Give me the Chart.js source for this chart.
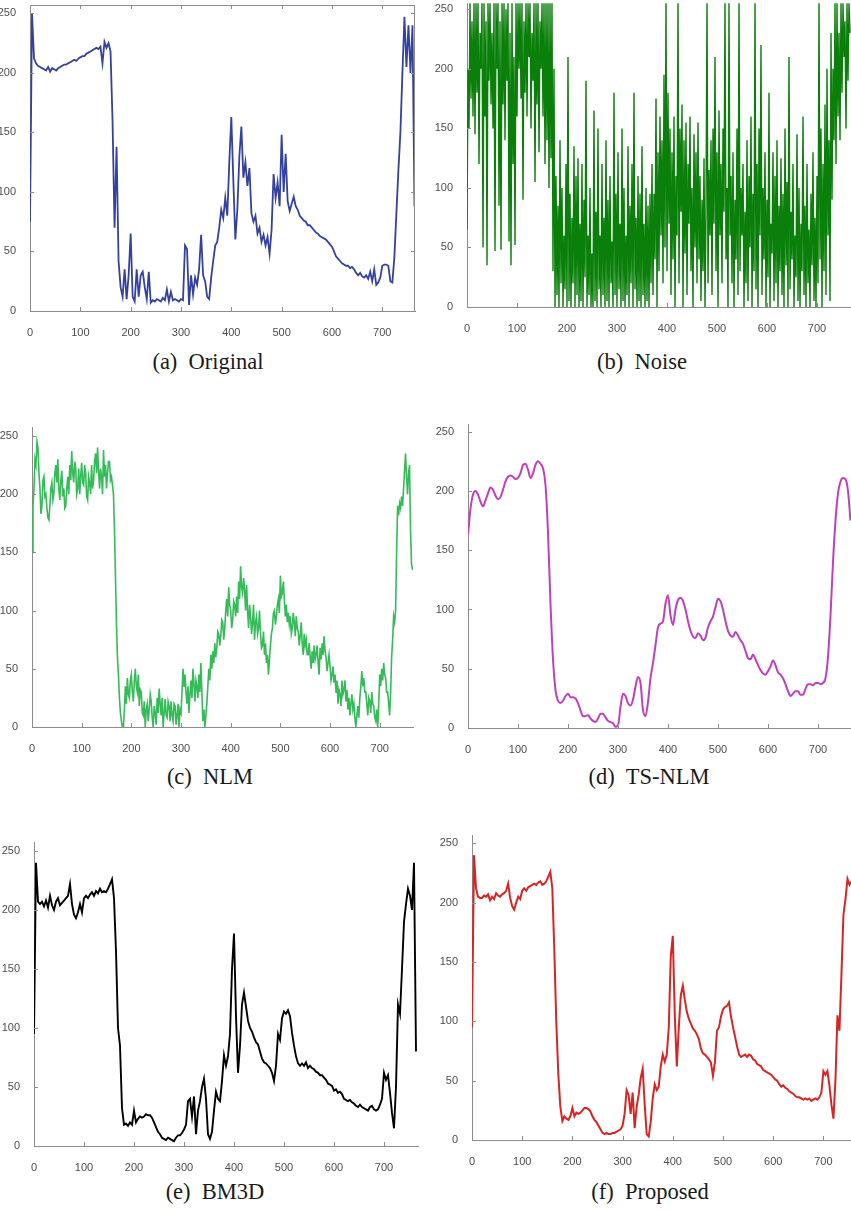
<!DOCTYPE html>
<html>
<head>
<meta charset="utf-8">
<script src="https://cdn.jsdelivr.net/npm/chart.js@4.4.1/dist/chart.umd.min.js"></script>
<style>
  html, body { margin: 0; padding: 0; background: #fff; overflow: hidden; }
  body { width: 851px; height: 1210px; position: relative; }
  canvas { position: absolute; }
  .cap {
    position: absolute; width: 300px; margin-left: -150px; text-align: center;
    font-family: "Liberation Serif", "DejaVu Serif", serif; font-size: 22.5px;
    color: #1a1a1a; line-height: 26px; margin-top: -13px; white-space: pre;
  }
</style>
</head>
<body>
<canvas id="chartA"></canvas>
<canvas id="chartB"></canvas>
<canvas id="chartC"></canvas>
<canvas id="chartD"></canvas>
<canvas id="chartE"></canvas>
<canvas id="chartF"></canvas>
<div class="cap" style="left:208px; top:362px">(a)  Original</div>
<div class="cap" style="left:642px; top:362px">(b)  Noise</div>
<div class="cap" style="left:210px; top:777px">(c)  NLM</div>
<div class="cap" style="left:649px; top:777px">(d)  TS-NLM</div>
<div class="cap" style="left:215px; top:1192px">(e)  BM3D</div>
<div class="cap" style="left:650px; top:1192px">(f)  Proposed</div>
<script>
// tick labels shared by all six panels
const xTicks = [0, 100, 200, 300, 400, 500, 600, 700];
const yTicks = [0, 50, 100, 150, 200, 250];

// (a) original row profile, one value every 4 samples
const originalStep = 4;
const original = [
  75, 250, 212, 208, 206, 205, 204, 203, 202, 205,
  201, 204, 203, 202, 204, 205, 206, 207, 207, 208,
  209, 210, 211, 210, 212, 213, 214, 214, 216, 217,
  218, 219, 220, 221, 220, 222, 208, 226, 221, 225,
  218, 160, 70, 138, 42, 20, 12, 35, 10, 30,
  65, 12, 8, 35, 12, 30, 33, 20, 10, 33,
  7, 9, 8, 10, 9, 8, 11, 9, 18, 8,
  16, 9, 10, 9, 8, 10, 9, 55, 52, 5,
  30, 14, 28, 22, 35, 64, 30, 25, 12, 10,
  28, 42, 55, 58, 70, 85, 78, 95, 80, 125,
  163, 110, 60, 85, 130, 155, 112, 125, 105, 120,
  82, 75, 80, 65, 70, 58, 64, 55, 62, 48,
  68, 115, 95, 108, 88, 148, 100, 132, 92, 84,
  90, 96, 88, 85, 80, 78, 76, 75, 72, 72,
  70, 68, 66, 65, 63, 62, 61, 60, 58, 56,
  54, 50, 46, 44, 42, 40, 39, 38, 38, 36,
  37, 35, 32, 30, 32, 29, 28, 30, 27, 33,
  25, 35, 22, 24, 28, 38, 39, 39, 38, 25,
  24, 45, 82, 118, 150, 200, 247, 205, 240, 200,
  240, 88
];

// (b) noisy profile, one value every 2 samples
const noiseStep = 2;
const noise = [
  65, 200, 150, 255, 175, 240, 160, 255, 145, 255,
  180, 255, 120, 230, 200, 255, 50, 255, 160, 240,
  35, 255, 190, 255, 170, 230, 150, 255, 47, 255,
  200, 255, 85, 240, 48, 255, 170, 255, 140, 250,
  190, 255, 55, 230, 35, 255, 120, 210, 52, 255,
  160, 255, 200, 255, 175, 255, 90, 240, 180, 255,
  160, 255, 210, 255, 150, 230, 190, 255, 105, 255,
  170, 255, 130, 240, 200, 255, 160, 255, 120, 255,
  140, 255, 100, 255, 125, 255, 30, 200, 0, 110,
  10, 85, 0, 140, 20, 100, 0, 60, 15, 120,
  0, 210, 5, 95, 0, 75, 20, 135, 0, 110,
  10, 125, 0, 70, 5, 120, 0, 90, 25, 190,
  0, 60, 10, 100, 0, 45, 0, 165, 5, 80,
  0, 150, 15, 60, 0, 120, 10, 75, 0, 140,
  5, 90, 0, 110, 20, 55, 0, 180, 10, 95,
  0, 130, 15, 70, 0, 150, 5, 100, 0, 60,
  10, 135, 0, 85, 20, 120, 0, 180, 15, 75,
  0, 110, 5, 95, 0, 135, 10, 70, 0, 100,
  5, 85, 0, 95, 20,
  120, 10, 95, 40, 175, 0, 130, 30, 160, 60,
  140, 20, 195, 50, 255, 30, 180, 70, 150, 10,
  130, 40, 160, 0, 110, 60, 255, 20, 150, 80,
  170, 0, 140, 45, 155, 10, 120, 70, 160, 30,
  100, 0, 145, 50, 130, 20, 155, 40, 110, 5,
  90, 30, 125, 0, 80, 255, 20, 115, 60, 140,
  10, 150, 70, 210, 30, 130, 0, 165, 60, 120,
  20, 150, 80, 255, 40,
  100, 0, 255, 60, 110, 20, 130, 0, 90, 40,
  150, 10, 255, 30, 100, 60, 120, 0, 80, 20,
  140, 5, 110, 50, 160, 0, 95, 30, 255, 15,
  120, 0, 150, 60, 220, 10, 100, 40, 130, 0,
  90, 25, 180, 0, 70, 45, 130, 5, 110, 20,
  140, 0, 85, 30, 125, 10, 95, 0, 150, 35,
  105, 0, 210, 15, 80, 40, 120, 0, 60, 25,
  145, 5, 100, 0, 70, 30, 160, 10, 85, 0,
  120, 20, 65, 0, 95, 35, 130, 5, 75, 0,
  110, 20, 255, 40, 150, 0, 120, 30, 170, 10,
  200, 60, 140, 5, 230, 90, 200, 140, 255, 120,
  255, 160, 230, 140, 255, 180, 255, 210, 240, 150,
  255, 190, 255, 230
];

// (c) NLM result, one value every 2 samples
const nlmStep = 2;
const nlm = [
  150, 190, 205, 230, 225, 245, 240, 218, 205, 183,
  190, 212, 215, 198, 200, 188, 180, 178, 190, 205,
  210, 195, 200, 218, 225, 210, 230, 205, 195, 212,
  220, 198, 205, 188, 190, 205, 215, 200, 225, 212,
  237, 218, 210, 228, 222, 200, 205, 222, 200, 215,
  227, 210, 208, 225, 218, 198, 195, 215, 210, 200,
  225, 205, 212, 228, 235, 218, 240, 220, 205, 222,
  215, 200, 238, 215, 225, 205, 218, 228, 228, 212,
  215, 208, 200, 170, 130, 90, 60, 45, 25, 12,
  5, 0, 0, 15, 35, 20, 42, 28, 25, 40,
  45, 30, 22, 40, 50, 35, 30, 45, 18, 32,
  30, 12, 10, 22, 0, 15, 20, 5, 15, 28,
  22, 8, 0, 18, 12, 2, 25, 12, 33, 20,
  10, 25, 0, 12, 24, 10, 8, 22, 18, 5,
  22, 10, 5, 20, 18, 2, 10, 20, 0, 15,
  12, 30, 50, 35, 45, 30, 20, 35, 12, 28,
  40, 25, 50, 38, 22, 40, 35, 25, 45, 30,
  55, 30, 5, 15, 0, 10, 20, 35, 50, 40,
  62, 50, 65, 55, 72, 60, 68, 82, 80, 70,
  78, 92, 90, 75, 85, 100, 110, 95, 120, 105,
  100, 85, 92, 108, 105, 95, 112, 98, 125, 110,
  138, 120, 115, 128, 118, 100, 122, 100, 85, 105,
  95, 80, 90, 105, 75, 90, 95, 80, 85, 100,
  80, 68, 70, 82, 62, 72, 55, 62, 45, 58,
  70, 80, 85, 98, 100, 88, 95, 105, 110, 98,
  130, 112, 115, 125, 110, 95, 105, 90, 98, 88,
  95, 80, 85, 98, 90, 78, 95, 85, 82, 70,
  78, 90, 72, 62, 80, 70, 75, 62, 62, 72,
  60, 50, 65, 55, 70, 58, 62, 70, 55, 45,
  68, 58, 72, 62, 78, 65, 60, 48, 55, 62,
  52, 40, 45, 52, 38, 45, 30, 40, 20, 32,
  28, 18, 40, 28, 32, 40, 22, 32, 15, 25,
  10, 20, 28, 15, 20, 8, 0, 10, 18, 8,
  25, 35, 48, 35, 42, 30, 30, 20, 10, 25,
  22, 12, 30, 20, 18, 8, 5, 15, 0, 20,
  45, 35, 50, 40, 55, 45, 42, 30, 30, 20,
  10, 30, 60, 75, 95, 90, 100, 150, 190, 182,
  192, 188, 198, 190, 205, 220, 235, 215, 200, 218,
  225, 170, 140, 135
];

// (d) TS-NLM result (smooth), one value every 5 samples
const tsnlmStep = 5;
const tsnlm = [
  163, 185, 197, 200, 197, 191, 187, 192, 198, 203,
  201, 196, 193, 195, 201, 208, 212, 213, 212, 210,
  211, 215, 222, 223, 218, 211, 215, 222, 225, 223,
  219, 205, 165, 105, 58, 32, 23, 21, 23, 27,
  29, 26, 26, 25, 21, 15, 10, 10, 11, 8,
  6, 5, 8, 12, 12, 9, 6, 5, 4, 1,
  2, 18, 29, 27, 21, 19, 24, 35, 43, 38,
  15, 10, 22, 42, 55, 70, 85, 88, 90, 105,
  112, 95, 87, 100, 108, 110, 107, 100, 90, 82,
  77, 76, 80, 78, 74, 76, 85, 90, 94, 102,
  109, 107, 100, 90, 82, 78, 77, 81, 78, 74,
  71, 65, 59, 58, 62, 58, 53, 49, 46, 45,
  48, 52, 57, 53, 47, 45, 42, 37, 31, 27,
  29, 31, 31, 28, 28, 33, 37, 37, 36, 38,
  38, 37, 38, 42, 60, 95, 140, 175, 198, 208,
  211, 210, 200, 175
];

// (e) BM3D result
const bm3dStep = 4;
const bm3d = [
  95, 240, 207, 205, 207, 203, 208, 202, 212, 204,
  200, 207, 210, 204, 206, 208, 210, 212, 222, 205,
  196, 193, 198, 205, 198, 210, 212, 210, 213, 215,
  212, 216, 214, 218, 215, 216, 215, 218, 222, 226,
  210, 165, 100, 85, 32, 18, 19, 17, 20, 18,
  30, 20, 23, 25, 24, 25, 27, 26, 26, 24,
  20, 16, 12, 10, 7, 6, 5, 7, 6, 5,
  4, 7, 9, 9, 11, 14, 18, 38, 40, 25,
  42, 10, 30, 38, 50, 57, 40, 10, 6, 12,
  30, 46, 40, 38, 55, 77, 68, 76, 95, 150,
  180, 110, 62, 85, 120, 130, 118, 106, 100, 97,
  92, 88, 86, 80, 74, 71, 70, 68, 66, 62,
  55, 68, 95, 90, 108, 114, 112, 115, 110, 96,
  85, 76, 70, 68, 70, 68, 71, 66, 68, 66,
  65, 63, 62, 60, 60, 58, 56, 53, 52, 51,
  47, 48, 45, 46, 44, 40, 39, 38, 39, 37,
  36, 34, 33, 35, 33, 32, 31, 30, 33, 34,
  31, 30, 31, 35, 40, 62, 56, 60, 45, 28,
  15, 50, 120, 112, 150, 190, 205, 218, 212, 200,
  240, 80
];

// (f) proposed method
const proposedStep = 4;
const proposed = [
  95, 240, 212, 205, 204, 204, 206, 205, 207, 202,
  205, 203, 208, 206, 205, 207, 208, 210, 216, 204,
  197, 194, 200, 205, 203, 210, 212, 210, 213, 214,
  215, 216, 215, 217, 218, 215, 216, 218, 222, 226,
  212, 160, 98, 55, 28, 16, 20, 18, 17, 20,
  27, 20, 23, 22, 23, 25, 27, 27, 26, 24,
  20, 17, 15, 12, 9, 6, 5, 6, 5, 5,
  6, 6, 7, 8, 9, 12, 22, 42, 38, 22,
  40, 10, 28, 38, 52, 60, 30, 5, 3, 15,
  35, 47, 42, 45, 62, 72, 66, 72, 95, 155,
  172, 105, 62, 95, 122, 130, 118, 108, 102, 98,
  94, 92, 89, 85, 77, 73, 72, 70, 68, 65,
  54, 66, 92, 95, 104, 110, 112, 113, 116, 104,
  95, 87, 79, 72, 70, 71, 72, 70, 72, 71,
  68, 67, 64, 63, 62, 59, 58, 57, 56, 55,
  53, 51, 50, 47, 45, 46, 44, 43, 41, 40,
  39, 37, 36, 36, 35, 34, 35, 34, 35, 33,
  34, 35, 34, 36, 40, 58, 55, 58, 46, 30,
  18, 50, 105, 92, 140, 190, 203, 220, 215, 218
];

const axisColor = "#8c8c8c";
const labelColor = "#4d4d4d";
const yAxisW = 40, xAxisH = 30, padTop = 10, padRight = 10;

// plot-area rectangles on the page (left, top, right, bottom)
const panels = [
  { id: "chartA", ys: original, step: originalStep, color: "#3441a0", width: 1.8, box: true,  L: 30,  T: 5,   R: 415, B: 311,  xMax: 765, yMax: 257 },
  { id: "chartB", ys: noise,    step: noiseStep,    color: "#0a7f0a", width: 1.4, box: false, L: 467, T: 3,   R: 851, B: 307,  xMax: 768, yMax: 255.3 },
  { id: "chartC", ys: nlm,      step: nlmStep,      color: "#35bb58", width: 1.6, box: false, L: 32,  T: 427, R: 413, B: 727,  xMax: 767, yMax: 257.7 },
  { id: "chartD", ys: tsnlm,    step: tsnlmStep,    color: "#bf3fbf", width: 2,   box: false, L: 468, T: 424, R: 851, B: 728,  xMax: 766, yMax: 256.5, smooth: true },
  { id: "chartE", ys: bm3d,     step: bm3dStep,     color: "#000000", width: 1.9, box: false, L: 34,  T: 842, R: 418, B: 1146, xMax: 768, yMax: 257.6 },
  { id: "chartF", ys: proposed, step: proposedStep, color: "#d92424", width: 2,   box: false, L: 472, T: 835, R: 851, B: 1140, xMax: 755, yMax: 257 }
];

// MATLAB-like ticks pointing into the plot, plus the full box where wanted
const inwardTicks = {
  id: "inwardTicks",
  afterDraw(chart, args, opts) {
    const { ctx, chartArea: a, scales } = chart;
    ctx.save();
    ctx.strokeStyle = axisColor;
    ctx.lineWidth = 1;
    ctx.beginPath();
    scales.x.ticks.forEach((t) => {
      const px = Math.round(scales.x.getPixelForValue(t.value)) + 0.5;
      ctx.moveTo(px, a.bottom);
      ctx.lineTo(px, a.bottom - 4);
      if (opts.box) {
        ctx.moveTo(px, a.top);
        ctx.lineTo(px, a.top + 4);
      }
    });
    scales.y.ticks.forEach((t) => {
      const py = Math.round(scales.y.getPixelForValue(t.value)) + 0.5;
      ctx.moveTo(a.left, py);
      ctx.lineTo(a.left + 4, py);
      if (opts.box) {
        ctx.moveTo(a.right, py);
        ctx.lineTo(a.right - 4, py);
      }
    });
    if (opts.box) {
      ctx.moveTo(a.left, a.top + 0.5);
      ctx.lineTo(a.right, a.top + 0.5);
      ctx.moveTo(a.right - 0.5, a.top);
      ctx.lineTo(a.right - 0.5, a.bottom);
    }
    ctx.stroke();
    ctx.restore();
  }
};

panels.forEach((p) => {
  const canvas = document.getElementById(p.id);
  const w = p.R - p.L + yAxisW + padRight;
  const h = p.B - p.T + padTop + xAxisH;
  canvas.width = w;
  canvas.height = h;
  canvas.style.left = (p.L - yAxisW) + "px";
  canvas.style.top = (p.T - padTop) + "px";

  new Chart(canvas.getContext("2d"), {
    type: "line",
    data: {
      datasets: [{
        data: p.ys.map((v, i) => ({ x: i * p.step, y: v })),
        borderColor: p.color,
        borderWidth: p.width,
        pointRadius: 0,
        fill: false,
        tension: p.smooth ? 0.4 : 0,
        cubicInterpolationMode: p.smooth ? "monotone" : "default"
      }]
    },
    options: {
      responsive: false,
      animation: false,
      devicePixelRatio: 1,
      events: [],
      layout: { padding: { top: padTop, right: padRight, left: 0, bottom: 0 } },
      plugins: {
        legend: { display: false },
        tooltip: { enabled: false },
        inwardTicks: { box: p.box }
      },
      scales: {
        x: {
          type: "linear",
          min: 0,
          max: p.xMax,
          grid: { display: false },
          border: { display: true, color: axisColor, width: 1 },
          afterBuildTicks: (s) => { s.ticks = xTicks.map((v) => ({ value: v })); },
          afterFit: (s) => { s.height = xAxisH; s.paddingLeft = 0; s.paddingRight = 0; },
          ticks: {
            autoSkip: false,
            maxRotation: 0,
            padding: 7,
            color: labelColor,
            font: { family: "'Liberation Sans', Arial, sans-serif", size: 11 }
          }
        },
        y: {
          min: 0,
          max: p.yMax,
          grid: { display: false },
          border: { display: true, color: axisColor, width: 1 },
          afterBuildTicks: (s) => { s.ticks = yTicks.map((v) => ({ value: v })); },
          afterFit: (s) => { s.width = yAxisW; s.paddingTop = 0; s.paddingBottom = 0; },
          ticks: {
            padding: 6,
            color: labelColor,
            font: { family: "'Liberation Sans', Arial, sans-serif", size: 11 }
          }
        }
      }
    },
    plugins: [inwardTicks]
  });
});
</script>
</body>
</html>
